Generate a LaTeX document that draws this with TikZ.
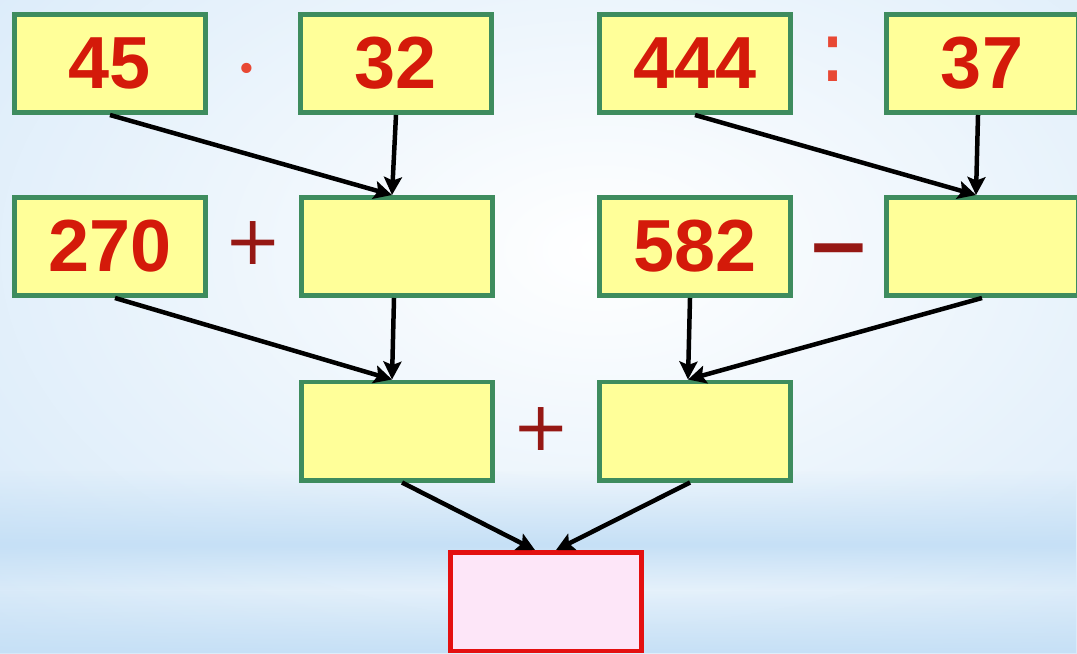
\documentclass[tikz,border=0pt]{standalone}
\usepackage{fontspec}
\setmainfont{Liberation Sans}
\newfontfamily\opfont{DejaVu Sans}
\usetikzlibrary{arrows.meta,fadings}
\definecolor{rahmen}{RGB}{62,140,94}
\definecolor{gelb}{RGB}{255,255,153}
\definecolor{zahl}{RGB}{212,26,10}
\definecolor{opdunkel}{RGB}{150,24,20}
\definecolor{ophell}{RGB}{232,72,52}
\definecolor{rosa}{RGB}{253,230,248}
\definecolor{rot}{RGB}{228,16,16}
\definecolor{hgblau}{RGB}{198,224,246}
\begin{document}
\begin{tikzpicture}[x=0.02cm, y=-0.02cm,
    box/.style={draw=rahmen, fill=gelb, line width=0.09cm, minimum width=3.83cm,
        minimum height=1.97cm, inner sep=0pt, text=zahl,
        font=\fontsize{42}{42}\selectfont\bfseries},
    result/.style={box, draw=rot, fill=rosa},
    op/.style={inner sep=0pt, anchor=base, font=\opfont\fontsize{39}{39}\selectfont},
    arr/.style={line width=0.09cm, -{Stealth[length=0.36cm, width=0.36cm, inset=0.07cm]}}]
    % 背景
    \useasboundingbox (0,0) rectangle (1077,653);
    \clip (0,0) rectangle (1077,653);
    \fill[hgblau] (0,0) rectangle (1077,653);
    \shade[inner color=white, outer color=hgblau] (-600,-500) rectangle (1800,1000);
    \fill[hgblau, path fading=north] (0,470) rectangle (1077,545);
    \fill[hgblau, path fading=south] (0,545) rectangle (1077,590);
    \fill[hgblau, path fading=north] (0,590) rectangle (1077,653);
    % 第一行
    \node[box] (A) at (110,63.5) {45};
    \node[box] (B) at (396,63.5) {32};
    \node[box] (C) at (695,63.5) {444};
    \node[box] (D) at (982,63.5) {37};
    % 第二行
    \node[box] (E) at (110,246.5) {270};
    \node[box] (F) at (397,246.5) {};
    \node[box] (G) at (695,246.5) {582};
    \node[box] (H) at (982,246.5) {};
    % 第三行
    \node[box] (I) at (397,431) {};
    \node[box] (J) at (695,431) {};
    % 结果
    \node[result] (K) at (546,601.5) {};
    % 运算符
    \node[op, text=ophell, font=\opfont\fontsize{20}{20}\selectfont] (mal) at (247,81) {•};
    \node[op, text=ophell, font=\opfont\fontsize{49}{49}\selectfont] (durch) at (833,81.5) {:};
    \node[op, text=opdunkel] (plusA) at (253,264) {+};
    \node[op, text=opdunkel, font=\opfont\fontsize{44}{44}\selectfont\bfseries] (minus) at (839,272) {−};
    \node[op, text=opdunkel] (plusB) at (541,450) {+};
    % 箭头
    \draw[arr] (A.south) -- ([xshift=-0.1cm]F.north);
    \draw[arr] (B.south) -- ([xshift=-0.1cm]F.north);
    \draw[arr] (C.south) -- ([xshift=-0.12cm]H.north);
    \draw[arr] ([xshift=-0.08cm]D.south) -- ([xshift=-0.12cm]H.north);
    \draw[arr] ([xshift=0.1cm]E.south) -- ([xshift=-0.1cm]I.north);
    \draw[arr] ([xshift=-0.06cm]F.south) -- ([xshift=-0.1cm]I.north);
    \draw[arr] ([xshift=-0.1cm]G.south) -- ([xshift=-0.14cm]J.north);
    \draw[arr] (H.south) -- ([xshift=-0.14cm]J.north);
    \draw[arr] ([xshift=0.1cm]I.south) -- ([xshift=-0.22cm]K.north);
    \draw[arr] ([xshift=-0.1cm]J.south) -- ([xshift=0.2cm]K.north);
\end{tikzpicture}
\end{document}
